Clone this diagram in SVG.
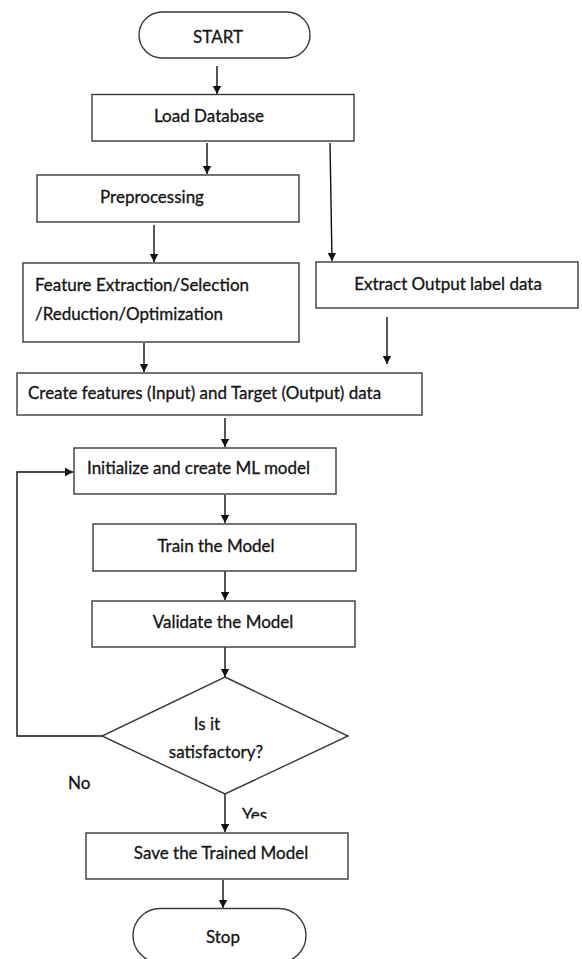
<svg xmlns="http://www.w3.org/2000/svg" width="582" height="959" viewBox="0 0 582 959">
<defs>
<style>
.box{fill:#fff;stroke:#3a3a3a;stroke-width:1.4}
.ln{fill:none;stroke:#111;stroke-width:1.4}
.t{font-family:Lato,"Open Sans","Liberation Sans",sans-serif;font-size:17px;fill:#141414;stroke:#141414;stroke-width:0.3;dominant-baseline:central}
.c{text-anchor:middle}
</style>
<marker id="ah" markerWidth="8" markerHeight="10" refX="8" refY="5" orient="auto" markerUnits="userSpaceOnUse">
<path d="M0,0.8 L8,5 L0,9.2 Z" fill="#111"/>
</marker>
<clipPath id="yesclip"><rect x="230" y="800" width="60" height="18.5"/></clipPath>
</defs>
<rect width="582" height="959" fill="#fff"/>
<g id="connectors">
<line class="ln" x1="217" y1="66" x2="217" y2="94" marker-end="url(#ah)"/>
<line class="ln" x1="207" y1="143" x2="207" y2="174" marker-end="url(#ah)"/>
<line class="ln" x1="330" y1="143" x2="332" y2="261" marker-end="url(#ah)"/>
<line class="ln" x1="154" y1="225" x2="154" y2="262" marker-end="url(#ah)"/>
<line class="ln" x1="144" y1="343" x2="144" y2="372" marker-end="url(#ah)"/>
<line class="ln" x1="387" y1="317" x2="387" y2="364" marker-end="url(#ah)"/>
<line class="ln" x1="225" y1="418" x2="225" y2="447" marker-end="url(#ah)"/>
<polyline class="ln" points="102,736 17,736 17,472 73,472" marker-end="url(#ah)"/>
<line class="ln" x1="225" y1="495" x2="225" y2="523" marker-end="url(#ah)"/>
<line class="ln" x1="225" y1="571" x2="225" y2="600" marker-end="url(#ah)"/>
<line class="ln" x1="225" y1="647" x2="225" y2="677" marker-end="url(#ah)"/>
<line class="ln" x1="225" y1="794" x2="225" y2="832" marker-end="url(#ah)"/>
<line class="ln" x1="223" y1="880" x2="223" y2="908" marker-end="url(#ah)"/>
<text class="t" x="68" y="782">No</text>
<text x="242" y="821" clip-path="url(#yesclip)" style="font-family:Lato,'Open Sans','Liberation Sans',sans-serif;font-size:17px;fill:#141414;stroke:#141414;stroke-width:0.3">Yes</text>
</g>
<g id="start">
<rect class="box" x="139" y="12" width="171" height="46" rx="23" ry="23"/>
<text class="t c" x="218" y="36">START</text>
</g>
<g id="load">
<rect class="box" x="92" y="94.5" width="262" height="46.5"/>
<text class="t c" x="209" y="115">Load Database</text>
</g>
<g id="preprocessing">
<rect class="box" x="37" y="175" width="262" height="47"/>
<text class="t c" x="152" y="196">Preprocessing</text>
</g>
<g id="feature">
<rect class="box" x="23" y="263" width="276" height="79"/>
<text class="t" x="35" y="284">Feature Extraction/Selection</text>
<text class="t" x="35" y="313">/Reduction/Optimization</text>
</g>
<g id="extract">
<rect class="box" x="316" y="262" width="262" height="46"/>
<text class="t c" x="448" y="283">Extract Output label data</text>
</g>
<g id="create">
<rect class="box" x="17" y="373" width="405" height="42"/>
<text class="t" x="28" y="392">Create features (Input) and Target (Output) data</text>
</g>
<g id="init">
<rect class="box" x="74" y="448" width="262" height="46"/>
<text class="t" x="87" y="467">Initialize and create ML model</text>
</g>
<g id="train">
<rect class="box" x="93" y="524" width="263" height="47"/>
<text class="t c" x="216" y="545">Train the Model</text>
</g>
<g id="validate">
<rect class="box" x="92" y="601" width="263" height="46"/>
<text class="t c" x="223" y="621">Validate the Model</text>
</g>
<g id="decision">
<polygon class="box" points="225,677 348,736 225,794 102,736"/>
<text class="t c" x="207" y="723">Is it</text>
<text class="t c" x="216" y="751">satisfactory?</text>
</g>
<g id="save">
<rect class="box" x="86" y="833" width="262" height="46"/>
<text class="t c" x="221" y="852">Save the Trained Model</text>
</g>
<g id="stop">
<rect class="box" x="133" y="908.5" width="173" height="54" rx="27" ry="27"/>
<text class="t c" x="223" y="936">Stop</text>
</g>
</svg>
